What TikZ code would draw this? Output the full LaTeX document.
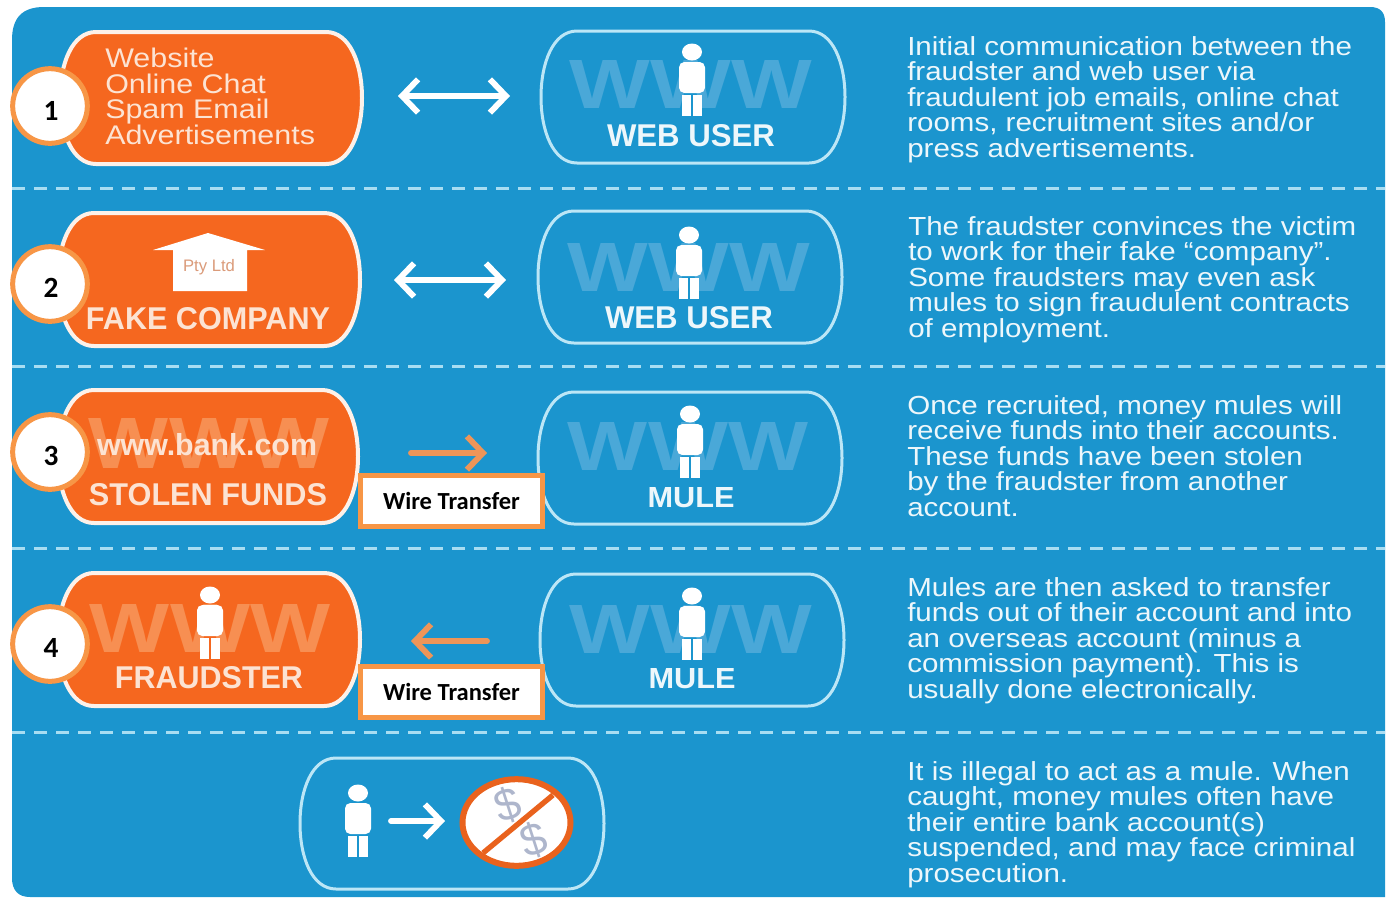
\documentclass[tikz,border=0pt]{standalone}
\usepackage{graphicx}
\usepackage{fontspec}
\setmainfont{Liberation Sans}
\newfontfamily\descfont[FakeStretch=1.13]{Liberation Sans}
\newfontfamily\callout{Carlito}
\usetikzlibrary{arrows.meta,shapes.geometric}
\definecolor{panelblue}{HTML}{1B95CE}
\definecolor{pillorange}{HTML}{F5671F}
\definecolor{wwwblue}{HTML}{4AA8D8}
\definecolor{wwworange}{HTML}{F78F52}
\definecolor{edgeblue}{HTML}{BCE6F6}
\definecolor{dashblue}{HTML}{A8DDF2}
\definecolor{softwhite}{HTML}{EDF7FB}
\definecolor{peach}{HTML}{FCE3D3}
\definecolor{pilledge}{HTML}{FDF1E9}
\definecolor{calloutorange}{HTML}{F79646}
\definecolor{flowpeach}{HTML}{EE9558}
\definecolor{dollargrey}{HTML}{AEB6CC}
\newdimen\pxu \pxu=0.75pt
\tikzset{
  x=0.75pt,y=-0.75pt,
  orangepill/.style={fill=pillorange,draw=pilledge,line width=3pt},
  bluepill/.style={draw=edgeblue,line width=2.25pt},
  rowdash/.style={draw=dashblue,line width=2.25pt,dash pattern=on 9.75pt off 6.75pt},
  flowtip/.style={Straight Barb[length=12pt,width=25pt,line width=4.4pt]},
  whiteflow/.style={draw=white,line width=4.4pt,line cap=round,{Straight Barb[length=12pt,width=25pt,line width=4.4pt]}-{Straight Barb[length=12pt,width=25pt,line width=4.4pt]}},
  peachright/.style={draw=flowpeach,line width=4.4pt,line cap=round,-{Straight Barb[length=12pt,width=25pt,line width=4.4pt]}},
  peachleft/.style={draw=flowpeach,line width=4.4pt,line cap=round,{Straight Barb[length=12pt,width=25pt,line width=4.4pt]}-},
  numcircle/.style={circle,draw=calloutorange,fill=white,line width=3.75pt,minimum size=56pt,inner sep=0pt},
  numtext/.style={inner sep=0pt,font=\callout\bfseries\fontsize{22}{24}\selectfont,text=black},
  wirebox/.style={rectangle,draw=calloutorange,fill=white,line width=3.75pt,minimum width=137pt,minimum height=38.5pt,inner sep=0pt,font=\callout\bfseries\fontsize{18.4}{20}\selectfont,text=black},
  desc/.style={anchor=north west,inner sep=0pt,align=left,text=softwhite,font=\descfont\fontsize{19.6}{19.125}\selectfont},
  channels/.style={anchor=north west,inner sep=0pt,align=left,text=peach,font=\descfont\fontsize{20.2}{19.125}\selectfont},
  lab/.style={inner sep=0pt,font=\bfseries},
}
% name, left, top, right, bottom, style
\newcommand\mypill[6]{%
  \path[#6] ({#2+36},#3) -- ({#4-36},#3)
    .. controls ({#4-12},#3) and (#4,{(#3+#5)/2-34}) .. (#4,{(#3+#5)/2})
    .. controls (#4,{(#3+#5)/2+34}) and ({#4-12},#5) .. ({#4-36},#5)
    -- ({#2+36},#5)
    .. controls ({#2+12},#5) and (#2,{(#3+#5)/2+34}) .. (#2,{(#3+#5)/2})
    .. controls (#2,{(#3+#5)/2-34}) and ({#2+12},#3) .. ({#2+36},#3) -- cycle;
  \coordinate (#1) at ({(#2+#4)/2},{(#3+#5)/2});}
% name, cx, cy, width, height, colour, text
\newcommand\fitlabel[7]{\node[lab,text=#6] (#1) at (#2,#3) {\resizebox{#4\pxu}{#5\pxu}{#7}};}
\newcommand\manfigure[3]{%
  \fill[#3] (#1,#2) ellipse [x radius=10,y radius=8.5];
  \fill[#3,rounded corners=4pt] ({#1-13},{#2+10}) rectangle ({#1+13},{#2+41});
  \fill[#3] ({#1-10},{#2+43}) rectangle ({#1-1},{#2+64});
  \fill[#3] ({#1+1},{#2+43}) rectangle ({#1+10},{#2+64});}
\begin{document}
\begin{tikzpicture}
\useasboundingbox (0,0) rectangle (1389,897);
\fill[white] (0,0) rectangle (1389,897);
\fill[panelblue] (12,40) .. controls (12,18) and (22,7) .. (44,7) -- (1370,7)
  .. controls (1380,7) and (1385,12) .. (1385,22) -- (1385,897) -- (30,897)
  .. controls (18,897) and (12,890) .. (12,878) -- cycle;
\draw[rowdash] (12,188) -- (1385,188);
\draw[rowdash] (12,366) -- (1385,366);
\draw[rowdash] (12,548) -- (1385,548);
\draw[rowdash] (12,732) -- (1385,732);

% row 1
\mypill{o1}{60}{32}{362}{164}{orangepill}
\node[channels] (t1) at (105,48) {Website\\Online Chat\\Spam Email\\Advertisements};
\mypill{b1}{541}{31}{845}{163}{bluepill}
\fitlabel{w1}{691}{84}{242}{48}{wwwblue}{WWW}
\manfigure{692}{52}{white}
\fitlabel{u1}{691}{136}{168}{22}{softwhite}{WEB USER}
\coordinate (a1l) at (398,96);
\coordinate (a1r) at (510,96);
\draw[whiteflow] (a1l) -- (a1r);
\node[desc] (d1) at (907,36) {Initial communication between the\\fraudster and web user via\\fraudulent job emails, online chat\\rooms, recruitment sites and/or\\press advertisements.};

% row 2
\mypill{o2}{58}{213}{360}{346}{orangepill}
\fill[white] (208,233) -- (265,250) -- (247,250) -- (247,291) -- (173,291) -- (173,250) -- (153,250) -- cycle;
\node[inner sep=0pt,text=pillorange!65!gray!70!white,font=\fontsize{12.5}{14}\selectfont] (pty) at (209,267) {Pty Ltd};
\fitlabel{u3}{208}{319}{244}{22}{peach}{FAKE COMPANY}
\mypill{b2}{538}{211}{842}{343}{bluepill}
\fitlabel{w2}{689}{267}{242}{48}{wwwblue}{WWW}
\manfigure{689}{235}{white}
\fitlabel{u2}{689}{318}{168}{22}{softwhite}{WEB USER}
\coordinate (a2l) at (394,280);
\coordinate (a2r) at (506,280);
\draw[whiteflow] (a2l) -- (a2r);
\node[desc] (d2) at (908,216) {The fraudster convinces the victim\\to work for their fake “company”.\\Some fraudsters may even ask\\mules to sign fraudulent contracts\\of employment.};

% row 3
\mypill{o3}{58}{390}{358}{523}{orangepill}
\fitlabel{w3}{209}{443}{240}{50}{wwworange}{WWW}
\fitlabel{u4}{207}{445}{220}{22}{peach}{www.bank.com}
\fitlabel{u5}{208}{495}{238}{22}{peach}{STOLEN FUNDS}
\mypill{b3}{538}{392}{842}{524}{bluepill}
\fitlabel{w4}{688}{446}{240}{48}{wwwblue}{WWW}
\manfigure{690}{414}{white}
\fitlabel{u6}{691}{498}{87}{20}{softwhite}{MULE}
\coordinate (a3l) at (411,453);
\coordinate (a3r) at (487,453);
\draw[peachright] (a3l) -- (a3r);
\node[wirebox] (x1) at (451.5,501) {\raisebox{-1.2pt}{Wire Transfer}};
\node[desc] (d3) at (907,395) {Once recruited, money mules will\\receive funds into their accounts.\\These funds have been stolen\\by the fraudster from another\\account.};

% row 4
\mypill{o4}{58}{573}{360}{706}{orangepill}
\fitlabel{w5}{210}{628}{240}{48}{wwworange}{WWW}
\manfigure{210}{595}{white}
\fitlabel{u7}{209}{678}{188}{22}{peach}{FRAUDSTER}
\mypill{b4}{540}{574}{844}{706}{bluepill}
\fitlabel{w6}{691}{629}{242}{48}{wwwblue}{WWW}
\manfigure{692}{596}{white}
\fitlabel{u8}{692}{679}{87}{20}{softwhite}{MULE}
\coordinate (a4l) at (411,641);
\coordinate (a4r) at (487,641);
\draw[peachleft] (a4l) -- (a4r);
\node[wirebox] (x2) at (451.5,692) {\raisebox{-1.2pt}{Wire Transfer}};
\node[desc] (d4) at (907,577) {Mules are then asked to transfer\\funds out of their account and into\\an overseas account (minus a\\commission payment). This is\\usually done electronically.};

% row 5
\mypill{b5}{300}{758}{604}{889}{bluepill}
\manfigure{358}{793}{white}
\node[ellipse,draw=pillorange!95!black,fill=white,line width=4.5pt,minimum width=81pt,minimum height=65pt,inner sep=0pt] (ban) at (516.5,822.5) {};
\node[inner sep=0pt,rotate=18,text=dollargrey,font=\fontsize{34}{34}\selectfont] (s1) at (508,805) {\$};
\node[inner sep=0pt,rotate=18,text=dollargrey,font=\fontsize{34}{34}\selectfont] (s2) at (534,840) {\$};
\coordinate (sa) at (553,795);
\coordinate (sb) at (483,853);
\draw[draw=pillorange!95!black,line width=4pt] (sa) -- (sb);
\coordinate (a5l) at (391,821);
\coordinate (a5r) at (445,821);
\draw[draw=white,line width=4.4pt,line cap=round,-{Straight Barb[length=12pt,width=25pt,line width=4.4pt]}] (a5l) -- (a5r);
\node[desc] (d5) at (907,761) {It is illegal to act as a mule. When\\caught, money mules often have\\their entire bank account(s)\\suspended, and may face criminal\\prosecution.};

% numbered circles
\node[numcircle] (c1) at (50,106) {};
\node[numtext] (n1) at (51,111) {1};
\node[numcircle] (c2) at (50,284) {};
\node[numtext] (n2) at (51,288) {2};
\node[numcircle] (c3) at (50,452) {};
\node[numtext] (n3) at (51,456) {3};
\node[numcircle] (c4) at (50,644) {};
\node[numtext] (n4) at (51,648) {4};
\end{tikzpicture}
\end{document}
